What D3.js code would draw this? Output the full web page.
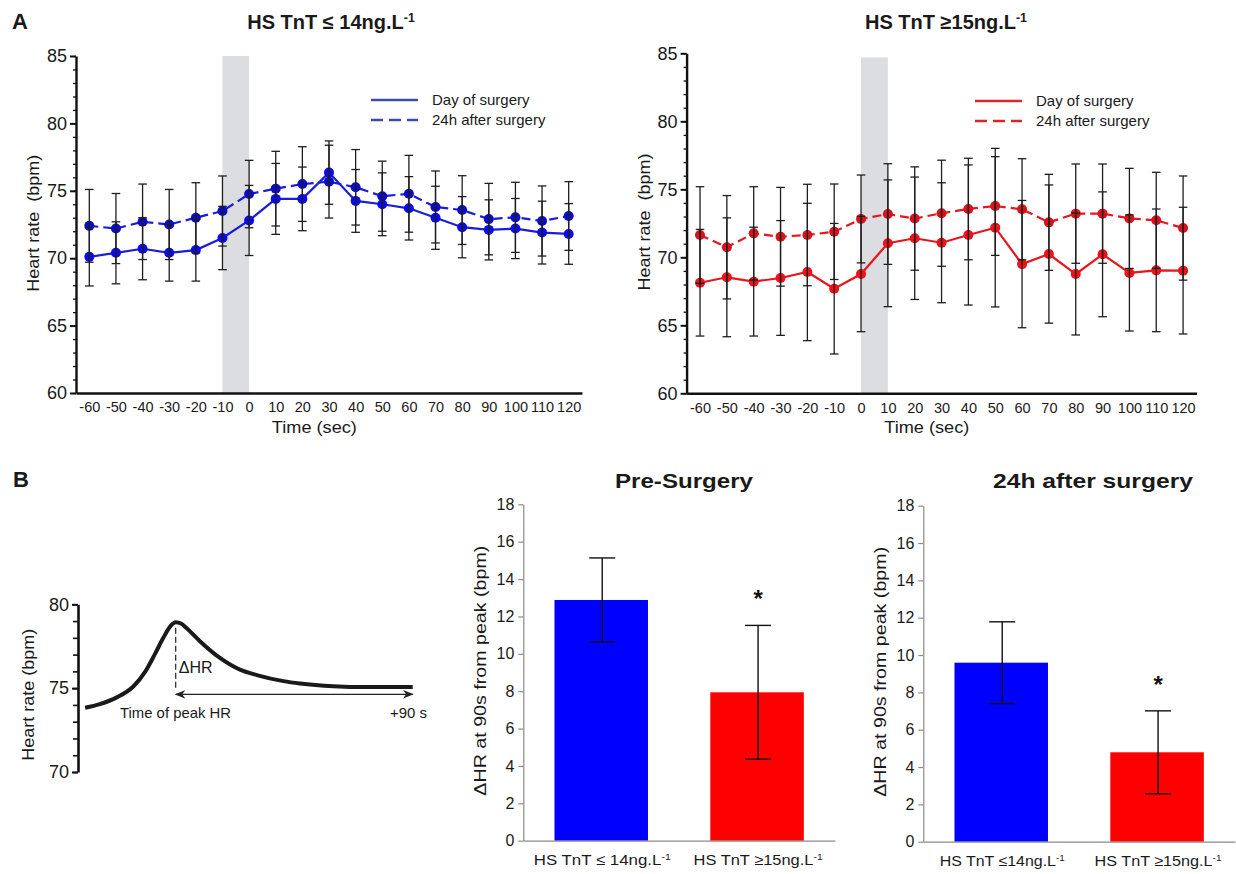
<!DOCTYPE html>
<html>
<head>
<meta charset="utf-8">
<script src="https://cdn.jsdelivr.net/npm/d3@7"></script>
<style>
  html, body { margin: 0; padding: 0; background: #fff; }
  svg { display: block; font-family: "Liberation Sans", Arial, sans-serif; }
</style>
</head>
<body>
<svg id="chart" width="1236" height="874"></svg>
<script>
// ---------------- DATA ----------------
const times = [-60,-50,-40,-30,-20,-10,0,10,20,30,40,50,60,70,80,90,100,110,120];

// HS TnT <= 14 (blue)
const lowDay   = [70.1,70.4,70.7,70.4,70.6,71.5,72.8,74.4,74.4,76.35,74.25,74.0,73.7,73.0,72.3,72.1,72.2,71.9,71.8];
const lowDaySD = [2.16,2.3,2.3,2.1,2.3,2.35,2.6,2.63,2.36,2.35,2.33,2.33,2.35,2.34,2.27,2.23,2.23,2.33,2.25];
const low24    = [72.4,72.2,72.7,72.5,73.0,73.5,74.76,75.16,75.5,75.68,75.26,74.6,74.78,73.8,73.57,72.9,73.03,72.76,73.13];
const low24SD  = [2.7,2.6,2.8,2.6,2.6,2.6,2.5,2.77,2.77,2.7,2.8,2.6,2.85,2.67,2.55,2.65,2.6,2.6,2.55];

// HS TnT >= 15 (red)
const highDay   = [68.13,68.53,68.21,68.48,68.92,67.69,68.77,71.03,71.4,71.07,71.64,72.18,69.5,70.24,68.77,70.22,68.85,69.04,69.02];
const highDaySD = [3.92,4.37,4.0,4.22,5.05,4.8,4.24,4.66,4.5,4.41,5.15,5.83,4.68,5.08,4.48,4.59,4.27,4.51,4.66];
const high24    = [71.64,70.74,71.76,71.51,71.64,71.88,72.82,73.18,72.85,73.24,73.55,73.77,73.53,72.57,73.21,73.21,72.86,72.72,72.15];
const high24SD  = [3.55,3.8,3.43,3.63,3.73,3.51,3.23,3.7,3.8,3.9,3.73,3.63,3.72,3.53,3.65,3.65,3.68,3.53,3.83];

const hrTicks = [60,65,70,75,80,85];
const legendLabels = ["Day of surgery", "24h after surgery"];

// Panel B bars
const barGroupsPre  = ["HS TnT ≤ 14ng.L", "HS TnT ≥15ng.L"];
const barGroupsPost = ["HS TnT ≤14ng.L", "HS TnT ≥15ng.L"];
const preValues  = [12.88, 7.94];
const preErr     = [2.25, 3.58];
const postValues = [9.59, 4.79];
const postErr    = [2.19, 2.22];
const barTicks = [0,2,4,6,8,10,12,14,16,18];

// Schematic curve (time from peak in s, heart rate bpm)
const schemT  = [-34.4,-28.8,-22.4,-16.1,-11.5,-8,-4.7,-2,0,2,4.2,9.2,16.8,24.4,30.8,40.9,47.2,59.9,72.5,90];
const schemHR = [73.83,74.05,74.45,75.1,76.0,77.0,78.0,78.7,78.93,78.85,78.57,77.8,76.8,76.1,75.78,75.42,75.28,75.12,75.07,75.07];
const schemTicks = [70,75,80];

// ---------------- DRAWING ----------------
const svg = d3.select("#chart");
const FONT_COL = "#1a1a1a";
const FF = "Liberation Sans, Arial, sans-serif";

function supText(sel, main) {
  sel.text(main);
  sel.append("tspan").attr("dy", "-0.55em").attr("font-size", "0.62em").text("-1");
}
function fit(sel, len) {
  sel.attr("textLength", len).attr("lengthAdjust", "spacingAndGlyphs");
  return sel;
}

// Panel letters
svg.append("text").attr("x", 12).attr("y", 29).attr("font-size", 22).attr("font-weight", "bold").attr("fill", FONT_COL).text("A");
svg.append("text").attr("x", 13).attr("y", 487).attr("font-size", 22).attr("font-weight", "bold").attr("fill", FONT_COL).text("B");

function lineChart(cfg) {
  const g = svg.append("g");
  const x = d3.scaleLinear().domain([-65, 125]).range([cfg.x0, cfg.x1]);
  const y = d3.scaleLinear().domain([60, 85]).range([cfg.yb, cfg.yt]);

  g.append("rect")
    .attr("x", x(cfg.shade[0])).attr("width", x(cfg.shade[1]) - x(cfg.shade[0]))
    .attr("y", y(cfg.shadeTop)).attr("height", y(60) - y(cfg.shadeTop))
    .attr("fill", "#dcdde0");

  const line = d3.line().x((d, i) => x(times[i])).y(d => y(d));

  g.append("path").datum(cfg.day).attr("d", line).attr("fill", "none")
    .attr("stroke", cfg.lineCol).attr("stroke-width", 2.2);
  g.append("path").datum(cfg.after).attr("d", line).attr("fill", "none")
    .attr("stroke", cfg.lineCol).attr("stroke-width", 2.2).attr("stroke-dasharray", "9,5");

  [cfg.after, cfg.day].forEach((arr, k) => {
    g.selectAll(null).data(arr).enter().append("circle")
      .attr("cx", (d, i) => x(times[i])).attr("cy", d => y(d)).attr("r", 5)
      .attr("fill", k === 0 ? cfg.ptCol2 : cfg.ptCol);
  });

  const cap = 4.3;
  [[cfg.day, cfg.daySD], [cfg.after, cfg.afterSD]].forEach(([m, sd]) => {
    const eb = g.append("g").attr("stroke", "#1e1e1e").attr("stroke-width", 1.3);
    m.forEach((v, i) => {
      const cx = x(times[i]);
      eb.append("line").attr("x1", cx).attr("x2", cx).attr("y1", y(v - sd[i])).attr("y2", y(v + sd[i]));
      eb.append("line").attr("x1", cx - cap).attr("x2", cx + cap).attr("y1", y(v + sd[i])).attr("y2", y(v + sd[i]));
      eb.append("line").attr("x1", cx - cap).attr("x2", cx + cap).attr("y1", y(v - sd[i])).attr("y2", y(v - sd[i]));
    });
  });

  const minor = g.append("g").attr("transform", `translate(${cfg.x0},0)`)
    .call(d3.axisLeft(y).ticks(25).tickSize(3).tickFormat(""));
  minor.select(".domain").remove();
  minor.selectAll("line").attr("stroke", "#111").attr("stroke-width", 1.3);
  const ya = g.append("g").attr("transform", `translate(${cfg.x0},0)`)
    .call(d3.axisLeft(y).tickValues(hrTicks).tickSize(6).tickSizeOuter(0).tickPadding(3).tickFormat(d => String(d)));
  ya.select(".domain").attr("stroke", "#111").attr("stroke-width", 2.4);
  ya.selectAll("line").attr("stroke", "#111").attr("stroke-width", 2);
  ya.selectAll("text").attr("font-size", 18).attr("fill", FONT_COL).attr("font-family", FF);

  const xa = g.append("g").attr("transform", `translate(0,${cfg.yb})`)
    .call(d3.axisBottom(x).tickValues(times).tickSize(0).tickSizeOuter(0).tickPadding(9).tickFormat(d => String(d)));
  xa.select(".domain").attr("stroke", "#111").attr("stroke-width", 2.6);
  xa.selectAll("text").attr("font-size", 14.5).attr("fill", FONT_COL).attr("font-family", FF);

  fit(g.append("text").attr("x", x(24.5)).attr("y", cfg.yb + 40).attr("text-anchor", "middle")
    .attr("font-size", 17).attr("fill", FONT_COL).text("Time (sec)"), 85);
  fit(g.append("text").attr("transform", `translate(${cfg.x0 - 37},${y(72.6)}) rotate(-90)`)
    .attr("text-anchor", "middle").attr("font-size", 17).attr("fill", FONT_COL)
    .attr("xml:space", "preserve").style("white-space", "pre").text("Heart rate  (bpm)"), 137);

  const t = g.append("text").attr("x", cfg.titleX).attr("y", 29).attr("text-anchor", "middle")
    .attr("font-size", 20).attr("font-weight", "bold").attr("fill", FONT_COL);
  supText(t, cfg.title);

  const lg = g.append("g");
  legendLabels.forEach((lab, i) => {
    const ly = cfg.legY + i * 20;
    lg.append("line").attr("x1", cfg.legX).attr("x2", cfg.legX + 47).attr("y1", ly).attr("y2", ly)
      .attr("stroke", cfg.legCol).attr("stroke-width", 2.6)
      .attr("stroke-dasharray", i === 1 ? "12,6" : null);
    lg.append("text").attr("x", cfg.legX + 61).attr("y", ly + 5).attr("font-size", 15)
      .attr("fill", FONT_COL).text(lab);
  });
}

lineChart({
  x0: 76, x1: 582, yt: 56, yb: 393, shade: [-10, 0], shadeTop: 85,
  day: lowDay, daySD: lowDaySD, after: low24, afterSD: low24SD,
  lineCol: "#1c1cd6", ptCol: "#0a0aec", ptCol2: "#0c0cc8", legCol: "#3b4ea8",
  title: "HS TnT ≤ 14ng.L", titleX: 331, legX: 371, legY: 100
});
lineChart({
  x0: 686.6, x1: 1196.5, yt: 53.3, yb: 393.3, shade: [0, 10], shadeTop: 84.7,
  day: highDay, daySD: highDaySD, after: high24, afterSD: high24SD,
  lineCol: "#e5161e", ptCol: "#f01018", ptCol2: "#d81218", legCol: "#d8262a",
  title: "HS TnT ≥15ng.L", titleX: 946, legX: 975, legY: 101
});

// ---------------- Bar charts ----------------
function barChart(cfg) {
  const g = svg.append("g");
  const x = d3.scaleBand().domain(cfg.groups).range([cfg.x0, cfg.x1]).paddingInner(0.4).paddingOuter(0.2);
  const y = d3.scaleLinear().domain([0, 18]).range([cfg.yb, cfg.yt]);
  const cols = ["#0000ff", "#ff0000"];

  g.selectAll(null).data(cfg.values).enter().append("rect")
    .attr("x", (d, i) => x(cfg.groups[i])).attr("width", x.bandwidth())
    .attr("y", d => y(d)).attr("height", d => y(0) - y(d))
    .attr("fill", (d, i) => cols[i]);

  const cap = 13;
  cfg.values.forEach((v, i) => {
    const cx = x(cfg.groups[i]) + x.bandwidth() / 2 + 1;
    const e = cfg.err[i];
    const eg = g.append("g").attr("stroke", "#111").attr("stroke-width", 1.4);
    eg.append("line").attr("x1", cx).attr("x2", cx).attr("y1", y(v - e)).attr("y2", y(v + e));
    eg.append("line").attr("x1", cx - cap).attr("x2", cx + cap).attr("y1", y(v + e)).attr("y2", y(v + e));
    eg.append("line").attr("x1", cx - cap).attr("x2", cx + cap).attr("y1", y(v - e)).attr("y2", y(v - e));
    if (i === 1) {
      g.append("text").attr("x", cx).attr("y", y(v + e) - 31 + 13).attr("text-anchor", "middle")
        .attr("font-size", 24).attr("font-weight", "bold").attr("fill", "#111").text("*");
    }
  });

  const ya = g.append("g").attr("transform", `translate(${cfg.x0},0)`)
    .call(d3.axisLeft(y).tickValues(barTicks).tickSize(5).tickSizeOuter(0).tickPadding(4));
  ya.select(".domain").attr("stroke", "#8a8a8a").attr("stroke-width", 1.2);
  ya.selectAll("line").attr("stroke", "#8a8a8a").attr("stroke-width", 1.2);
  ya.selectAll("text").attr("font-size", 16).attr("fill", FONT_COL).attr("font-family", FF);

  const xa = g.append("g").attr("transform", `translate(0,${cfg.yb})`)
    .call(d3.axisBottom(x).tickSize(0).tickSizeOuter(0).tickFormat(""));
  xa.select(".domain").attr("stroke", "#8a8a8a").attr("stroke-width", 1.2);

  cfg.groups.forEach((lab, i) => {
    const t = g.append("text").attr("x", x(lab) + x.bandwidth() / 2 + 1).attr("y", cfg.yb + 24)
      .attr("text-anchor", "middle").attr("font-size", 15).attr("fill", FONT_COL);
    supText(t, lab);
    fit(t, cfg.labW[i]);
  });

  fit(g.append("text").attr("transform", `translate(${cfg.x0 - 37},${y(9.1)}) rotate(-90)`)
    .attr("text-anchor", "middle").attr("font-size", 16).attr("fill", FONT_COL)
    .text("ΔHR at 90s from peak (bpm)"), 250);

  fit(g.append("text").attr("x", cfg.titleX).attr("y", 488).attr("text-anchor", "middle")
    .attr("font-size", 21).attr("font-weight", "bold").attr("fill", FONT_COL).text(cfg.title), cfg.titleW);
}

barChart({ x0: 523.3, x1: 835, yt: 504.3, yb: 840.7, groups: barGroupsPre,
  values: preValues, err: preErr, title: "Pre-Surgery", titleX: 684, titleW: 138, labW: [137, 129] });
barChart({ x0: 923.3, x1: 1235, yt: 505.7, yb: 841.7, groups: barGroupsPost,
  values: postValues, err: postErr, title: "24h after surgery", titleX: 1093, titleW: 200, labW: [125, 127] });

// ---------------- Schematic ----------------
(function schematic() {
  const g = svg.append("g");
  const x = d3.scaleLinear().domain([0, 90]).range([175.7, 412.7]);
  const y = d3.scaleLinear().domain([70, 80]).range([772, 604.3]);
  const axX = 78;

  const minor = g.append("g").attr("transform", `translate(${axX},0)`)
    .call(d3.axisLeft(y).ticks(10).tickSize(5).tickFormat(""));
  minor.select(".domain").remove();
  minor.selectAll("line").attr("stroke", "#111").attr("stroke-width", 1.6);
  const ya = g.append("g").attr("transform", `translate(${axX},0)`)
    .call(d3.axisLeft(y).tickValues(schemTicks).tickSize(6).tickSizeOuter(0).tickPadding(3));
  ya.select(".domain").attr("stroke", "#111").attr("stroke-width", 2.6);
  ya.selectAll("line").attr("stroke", "#111").attr("stroke-width", 2);
  ya.selectAll("text").attr("font-size", 18).attr("fill", FONT_COL).attr("font-family", FF);

  fit(g.append("text").attr("transform", `translate(${axX - 44},${y(74.6)}) rotate(-90)`)
    .attr("text-anchor", "middle").attr("font-size", 17).attr("fill", FONT_COL).text("Heart rate (bpm)"), 132);

  const line = d3.line().x((d, i) => x(schemT[i])).y(d => y(d)).curve(d3.curveMonotoneX);
  g.append("path").datum(schemHR).attr("d", line).attr("fill", "none")
    .attr("stroke", "#1a1a1a").attr("stroke-width", 4).attr("stroke-linecap", "butt");

  g.append("line").attr("x1", x(0)).attr("x2", x(0)).attr("y1", y(78.6)).attr("y2", y(74.95))
    .attr("stroke", "#222").attr("stroke-width", 1.2).attr("stroke-dasharray", "6,3");
  g.append("text").attr("x", x(0) + 3).attr("y", 673).attr("font-size", 16).attr("fill", FONT_COL).text("ΔHR");

  const defs = svg.append("defs");
  defs.append("marker").attr("id", "arr").attr("viewBox", "0 0 10 10").attr("refX", 9).attr("refY", 5)
    .attr("markerWidth", 9).attr("markerHeight", 9).attr("orient", "auto-start-reverse")
    .append("path").attr("d", "M0,1 L10,5 L0,9 L3,5 Z").attr("fill", "#222");
  g.append("line").attr("x1", x(0)).attr("x2", x(90)).attr("y1", 694.3).attr("y2", 694.3)
    .attr("stroke", "#222").attr("stroke-width", 1.2)
    .attr("marker-start", "url(#arr)").attr("marker-end", "url(#arr)");

  fit(g.append("text").attr("x", 120).attr("y", 718).attr("font-size", 15).attr("fill", FONT_COL).text("Time of peak HR"), 111);
  g.append("text").attr("x", 390).attr("y", 718).attr("font-size", 15).attr("fill", FONT_COL).text("+90 s");
})();
</script>
</body>
</html>
